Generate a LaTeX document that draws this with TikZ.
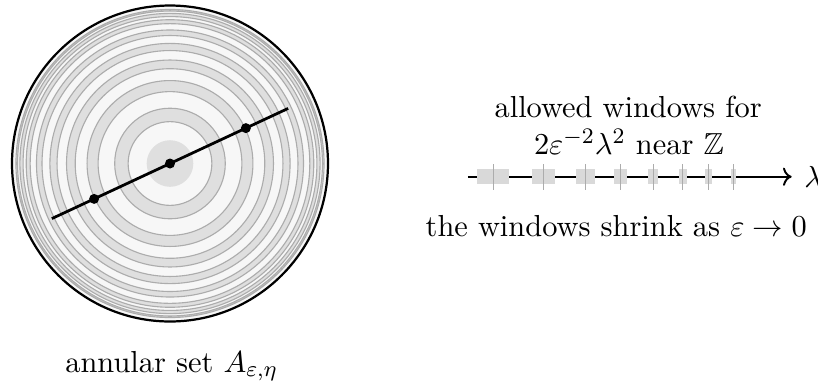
\documentclass[tikz,border=0pt]{standalone}
\usepackage{amsmath,amssymb}
\usepackage{tikz}
\usetikzlibrary{arrows.meta, positioning, calc}

\begin{document}
\begin{tikzpicture}[
    every node/.style={font=\fontsize{10.95}{13.6}\selectfont},
    disk/.style={draw=black, line width=0.8pt, fill=black!3},
    ringband/.style={fill=gray!25, even odd rule},
    ringedge/.style={draw=gray!65, line width=0.4pt},
    window/.style={fill=gray!30, draw=none},
    wintick/.style={draw=gray!65, line width=0.4pt},
    dot/.style={circle, fill=black, inner sep=0pt, minimum size=3.6pt},
    caption/.style={align=center, anchor=base}
]
\useasboundingbox (-2.152,-2.778) rectangle (8.203,2.07);

% Annular set
\draw[disk] (0,0) circle (2);
\fill[gray!25] (0,0) circle (0.295);
\foreach \ri/\ro in {0.53/0.70, 0.91/1.05, 1.20/1.31, 1.43/1.52, 1.62/1.69, 1.77/1.82, 1.86/1.90, 1.93/1.95} {
    \fill[ringband] (0,0) circle (\ro) (0,0) circle (\ri);
    \draw[ringedge] (0,0) circle (\ro) (0,0) circle (\ri);
}

% Line through the centre
\coordinate (lineL) at (205:1.65);
\coordinate (lineR) at (25:1.65);
\draw[line width=1pt] (lineL) -- (lineR);
\node[dot] (ptL) at (205:1.06) {};
\node[dot] (ptO) at (0,0) {};
\node[dot] (ptR) at (25:1.06) {};

\node[caption] (setlabel) at (0.02,-2.64) {annular set $A_{\varepsilon,\eta}$};

% Windows on the lambda axis
\coordinate (axstart) at (3.77,-0.167);
\coordinate (axend) at (7.87,-0.167);
\draw[line width=0.7pt, ->] (axstart) -- (axend);
\node[right=1pt of axend] (lam) {$\lambda$};
\foreach \cx/\w in {4.09/0.41, 4.73/0.295, 5.26/0.23, 5.70/0.16, 6.12/0.127, 6.49/0.097, 6.82/0.085, 7.13/0.063} {
    \fill[window] (\cx-\w/2,-0.262) rectangle (\cx+\w/2,-0.072);
    \draw[wintick] (\cx,-0.335) -- (\cx,0.0);
}

\node[caption] (wintext) at (5.80,0.58) {allowed windows for};
\node[caption] (wintext2) at (5.81,0.12) {$2\varepsilon^{-2}\lambda^2$ near $\mathbb{Z}$};
\node[caption] (shrink) at (5.65,-0.93) {the windows shrink as $\varepsilon\to 0$};

\end{tikzpicture}
\end{document}
